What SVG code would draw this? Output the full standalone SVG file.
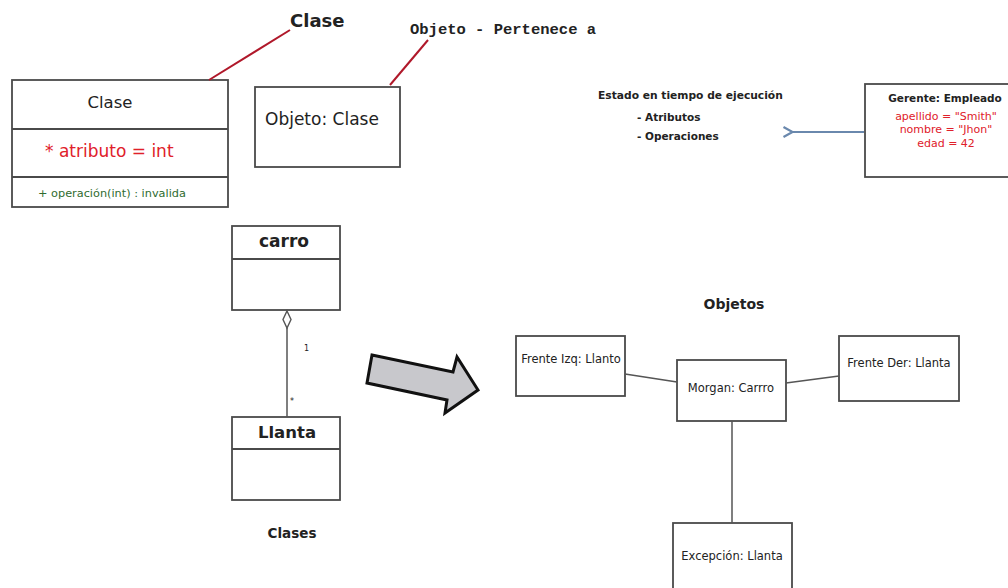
<svg xmlns="http://www.w3.org/2000/svg" width="1008" height="588" viewBox="0 0 1008 588">
  <defs>
    <style>
      text { font-family: "DejaVu Sans", "Open Sans", sans-serif; fill: #222; }
      .box { fill: #fff; stroke: #4a4a4a; stroke-width: 1.8; }
      .div { stroke: #4a4a4a; stroke-width: 1.8; }
      .b { font-weight: bold; }
      .red { fill: #e0202a; }
      .grn { fill: #2f6b2f; }
      .lead { stroke: #b0182a; stroke-width: 2; fill: none; }
      .link { stroke: #555; stroke-width: 1.5; fill: none; }
      .obj { font-size: 11.5px; }
      .mono { font-family: "Liberation Mono", "DejaVu Sans Mono", monospace; font-weight: bold; }
    </style>
    <marker id="openHead" viewBox="0 0 14 14" refX="1.5" refY="7" markerWidth="14" markerHeight="14" markerUnits="userSpaceOnUse" orient="auto">
      <path d="M11,2 L2,7 L11,12" fill="none" stroke="#6a88ad" stroke-width="2.2"/>
    </marker>
  </defs>

  <!-- Callout labels -->
  <text class="b" x="290" y="27" font-size="18">Clase</text>
  <text class="mono" x="410" y="34" font-size="15.5">Objeto - Pertenece a</text>

  <!-- Class box -->
  <g id="clase">
    <rect class="box" x="12" y="80" width="216" height="127"/>
    <line class="div" x1="12" y1="129" x2="228" y2="129"/>
    <line class="div" x1="12" y1="177" x2="228" y2="177"/>
    <text x="110" y="108" font-size="16.5" text-anchor="middle">Clase</text>
    <text class="red" x="45" y="157" font-size="17">* atributo = int</text>
    <text class="grn" x="38" y="197" font-size="11.3">+ operación(int) : invalida</text>
  </g>

  <!-- Object box -->
  <g id="objeto">
    <rect class="box" x="255" y="87" width="145" height="80"/>
    <text x="265" y="125" font-size="17">Objeto: Clase</text>
  </g>

  <!-- Runtime state note -->
  <g id="estado">
    <text class="b" x="598" y="99" font-size="10.7">Estado en tiempo de ejecución</text>
    <text class="b" x="637" y="121" font-size="10.5">- Atributos</text>
    <text class="b" x="637" y="140" font-size="10.5">- Operaciones</text>
  </g>

  <!-- Instance box -->
  <g id="gerente">
    <rect class="box" x="865" y="84" width="150" height="93"/>
    <text class="b" x="945" y="102" font-size="10.5" text-anchor="middle">Gerente: Empleado</text>
    <text class="red" x="946" y="120" font-size="11" text-anchor="middle">apellido = "Smith"</text>
    <text class="red" x="946" y="133" font-size="11" text-anchor="middle">nombre = "Jhon"</text>
    <text class="red" x="946" y="147" font-size="11" text-anchor="middle">edad = 42</text>
  </g>

  <!-- Class diagram -->
  <g id="carro">
    <rect class="box" x="232" y="226" width="108" height="84"/>
    <line class="div" x1="232" y1="259" x2="340" y2="259"/>
    <text class="b" x="284" y="247" font-size="17" text-anchor="middle">carro</text>
  </g>
  <g id="llanta">
    <rect class="box" x="232" y="417" width="108" height="83"/>
    <line class="div" x1="232" y1="449" x2="340" y2="449"/>
    <text class="b" x="287" y="438" font-size="16.5" text-anchor="middle">Llanta</text>
  </g>
  <text class="b" x="292" y="538" font-size="13.5" text-anchor="middle">Clases</text>

  <!-- Transition arrow -->
  <polygon points="372,355 453,372 457,357 478,390 445,413 447,400 367,383" fill="#c8c8cc" stroke="#111" stroke-width="3" stroke-linejoin="miter"/>

  <!-- Object diagram -->
  <text class="b" x="734" y="309" font-size="14" text-anchor="middle">Objetos</text>
  <g id="frente-izq">
    <rect class="box" x="516" y="336" width="109" height="60"/>
    <text class="obj" x="571" y="363" text-anchor="middle">Frente Izq: Llanto</text>
  </g>
  <g id="morgan">
    <rect class="box" x="677" y="360" width="109" height="61"/>
    <text class="obj" x="731" y="392" text-anchor="middle">Morgan: Carrro</text>
  </g>
  <g id="frente-der">
    <rect class="box" x="839" y="336" width="120" height="65"/>
    <text class="obj" x="899" y="367" text-anchor="middle">Frente Der: Llanta</text>
  </g>
  <g id="excepcion">
    <rect class="box" x="673" y="523" width="119" height="70"/>
    <text class="obj" x="732" y="560" text-anchor="middle">Excepción: Llanta</text>
  </g>

  <!-- Connectors -->
  <g id="connectors">
    <line class="lead" x1="209" y1="80" x2="290" y2="30"/>
    <line class="lead" x1="390" y1="85" x2="428" y2="40"/>
    <line x1="864" y1="132" x2="793" y2="132" stroke="#6a88ad" stroke-width="2" marker-end="url(#openHead)"/>
    <polygon points="287,311 291,319.5 287,328 283,319.5" fill="#fff" stroke="#555" stroke-width="1.4"/>
    <line class="link" x1="287" y1="328" x2="287" y2="417"/>
    <text x="304" y="351" font-size="8">1</text>
    <text x="290" y="404" font-size="8">*</text>
    <line class="link" x1="625" y1="374" x2="677" y2="382"/>
    <line class="link" x1="786" y1="383" x2="839" y2="376"/>
    <line class="link" x1="732" y1="421" x2="732" y2="523"/>
  </g>
</svg>
